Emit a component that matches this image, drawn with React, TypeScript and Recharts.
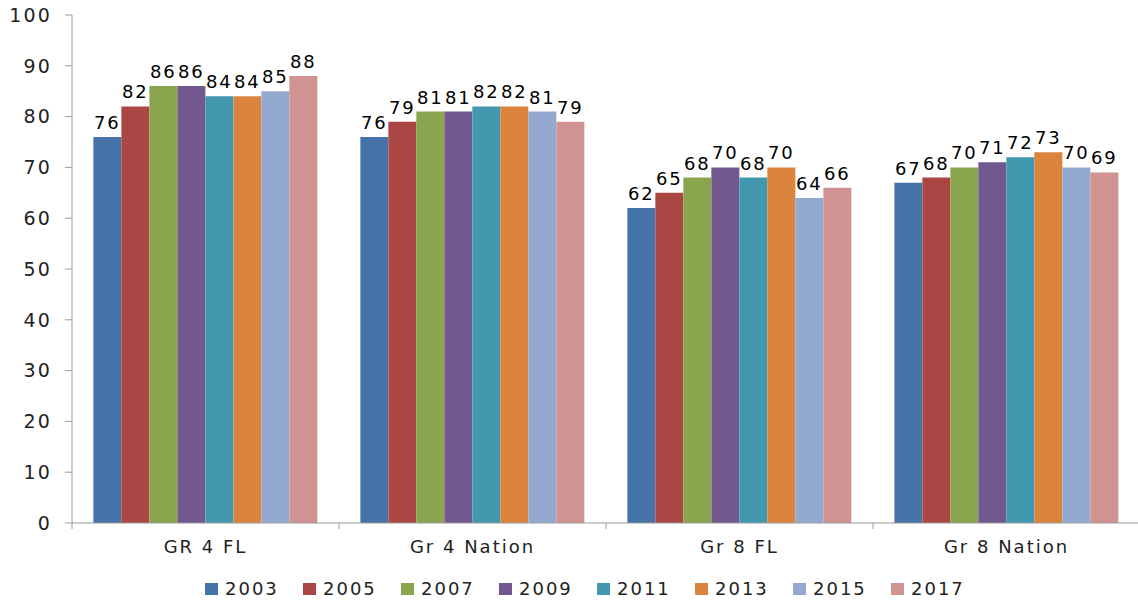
import React from 'react';
import { BarChart, Bar, XAxis, YAxis, Legend, LabelList } from 'recharts';

// Data
const categories = ['GR 4 FL', 'Gr 4 Nation', 'Gr 8 FL', 'Gr 8 Nation'];
const years = ['2003', '2005', '2007', '2009', '2011', '2013', '2015', '2017'];
const yearColors = ['#4572A7', '#AA4643', '#89A54E', '#71588F', '#4198AF', '#DB843D', '#93A9CF', '#D19392'];

const values2003 = [76, 76, 62, 67];
const values2005 = [82, 79, 65, 68];
const values2007 = [86, 81, 68, 70];
const values2009 = [86, 81, 70, 71];
const values2011 = [84, 82, 68, 72];
const values2013 = [84, 82, 70, 73];
const values2015 = [85, 81, 64, 70];
const values2017 = [88, 79, 66, 69];

const yTicks = [0, 10, 20, 30, 40, 50, 60, 70, 80, 90, 100];

const seriesValues = [values2003, values2005, values2007, values2009, values2011, values2013, values2015, values2017];

const data = categories.map((name, i) => {
  const row: Record<string, string | number> = { name };
  years.forEach((y, j) => {
    row[y] = seriesValues[j][i];
  });
  return row;
});

const FONT = '"DejaVu Sans", Verdana, sans-serif';
const AXIS_COLOR = '#9a9a9a';
const CHART_W = 1138;
const CHART_H = 602;
const Y_AXIS_W = 72;
const BAND = (CHART_W + 2 - Y_AXIS_W) / categories.length;

function CategoryTick(props: any) {
  const { x, y, payload, index } = props;
  const left = x - BAND / 2;
  const last = index === categories.length - 1;
  return (
    <g>
      <line x1={left} y1={y - 8} x2={left} y2={y - 2} stroke={AXIS_COLOR} />
      {last && <line x1={left + BAND - 1} y1={y - 8} x2={left + BAND - 1} y2={y - 2} stroke={AXIS_COLOR} />}
      <text
        x={x}
        y={y + 22}
        textAnchor="middle"
        fill="#222"
        fontSize={18}
        fontFamily={FONT}
        style={{ letterSpacing: 2 }}
      >
        {payload.value}
      </text>
    </g>
  );
}

function YearLegend() {
  return (
    <div style={{ display: 'flex', paddingLeft: 205, fontFamily: FONT }}>
      {years.map((y, i) => (
        <div key={y} style={{ display: 'flex', alignItems: 'center', width: 98 }}>
          <span style={{ display: 'inline-block', width: 13, height: 12, background: yearColors[i], marginRight: 7 }} />
          <span style={{ fontSize: 18, color: '#222', letterSpacing: 2, lineHeight: '18px' }}>{y}</span>
        </div>
      ))}
    </div>
  );
}

export default function App() {
  return (
    <div style={{ position: 'absolute', left: 0, top: 0, background: '#fff' }}>
      <BarChart
        width={CHART_W}
        height={CHART_H}
        data={data}
        margin={{ top: 15, right: -2, left: 0, bottom: 0 }}
        barCategoryGap="8%"
        barGap={0}
      >
        <XAxis
          dataKey="name"
          height={79}
          axisLine={{ stroke: AXIS_COLOR }}
          tickLine={false}
          tick={<CategoryTick />}
          interval={0}
        />
        <YAxis
          width={Y_AXIS_W}
          domain={[0, 100]}
          ticks={yTicks}
          interval={0}
          axisLine={{ stroke: AXIS_COLOR }}
          tickLine={{ stroke: AXIS_COLOR }}
          tickSize={7}
          tickMargin={13}
          tick={{ fill: '#222', fontSize: 19, fontFamily: FONT, letterSpacing: 2.2 }}
        />
        <Legend
          verticalAlign="middle"
          wrapperStyle={{ top: 580, left: 0, width: CHART_W }}
          content={<YearLegend />}
        />
        {years.map((y, i) => (
          <Bar key={y} dataKey={y} fill={yearColors[i]} isAnimationActive={false}>
            <LabelList
              dataKey={y}
              position="top"
              offset={8}
              fill="#000"
              fontSize={18}
              fontFamily={FONT}
              style={{ letterSpacing: 2 }}
            />
          </Bar>
        ))}
      </BarChart>
    </div>
  );
}
